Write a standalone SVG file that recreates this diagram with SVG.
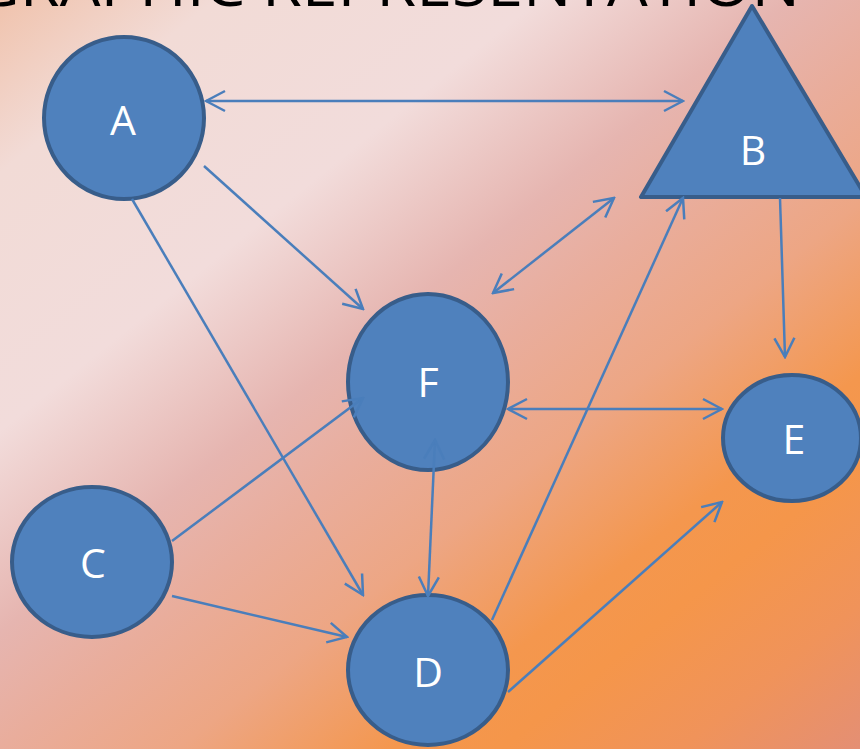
<svg xmlns="http://www.w3.org/2000/svg" width="860" height="749" viewBox="0 0 860 749">
<defs>
<linearGradient id="bg" gradientUnits="userSpaceOnUse" x1="0" y1="0" x2="701" y2="876">
<stop offset="0" stop-color="#f0c3ad"/>
<stop offset="0.12" stop-color="#f2dbd6"/>
<stop offset="0.3" stop-color="#f2dcdb"/>
<stop offset="0.44" stop-color="#e6b5b0"/>
<stop offset="0.52" stop-color="#e9ad9c"/>
<stop offset="0.62" stop-color="#eda684"/>
<stop offset="0.74" stop-color="#f4974e"/>
<stop offset="0.8" stop-color="#f5964a"/>
<stop offset="0.9" stop-color="#f0935a"/>
<stop offset="1" stop-color="#e48f74"/>
</linearGradient>
<marker id="ah" viewBox="0 0 22 24" refX="20" refY="12" markerWidth="22" markerHeight="24" markerUnits="userSpaceOnUse" orient="auto-start-reverse">
<path d="M1,2 L20,12 L1,22" fill="none" stroke="#4a7ebb" stroke-width="2.5"/>
</marker>
<style>
.node{fill:#4f81bd;stroke:#385d8a;stroke-width:4}
.lbl{fill:#ffffff;font-family:"Open Sans","Liberation Sans",sans-serif;font-size:41px;text-anchor:middle}
.c{stroke:#4a7ebb;stroke-width:2.5;fill:none}
.e{marker-end:url(#ah)}
.s{marker-start:url(#ah)}
.title{fill:#000000;font-family:"Open Sans","Liberation Sans",sans-serif;font-size:60px}
</style>
</defs>
<rect x="0" y="0" width="860" height="749" fill="url(#bg)"/>
<text class="title" x="-27" y="6" textLength="827" lengthAdjust="spacingAndGlyphs">GRAPHIC REPRESENTATION</text>
<g id="node-A"><ellipse class="node" cx="124" cy="118" rx="80" ry="81"/><text class="lbl" x="123" y="135">A</text></g>
<g id="node-B"><polygon class="node" points="752,6 641,197 866,197" stroke-linejoin="round"/><text class="lbl" x="753" y="165">B</text></g>
<g id="node-F"><ellipse class="node" cx="428" cy="382" rx="80" ry="88"/><text class="lbl" x="428" y="397">F</text></g>
<g id="node-E"><ellipse class="node" cx="792" cy="438" rx="69" ry="63"/><text class="lbl" x="794" y="454">E</text></g>
<g id="node-C"><ellipse class="node" cx="92" cy="562" rx="80" ry="75"/><text class="lbl" x="93" y="578">C</text></g>
<g id="node-D"><ellipse class="node" cx="428" cy="670" rx="80" ry="75"/><text class="lbl" x="428" y="687">D</text></g>
<g id="connectors">
<line class="c s e" x1="206" y1="101" x2="683" y2="101"/>
<line class="c e" x1="204" y1="166" x2="363" y2="309"/>
<line class="c e" x1="132" y1="199" x2="363" y2="595"/>
<line class="c s e" x1="493" y1="293" x2="614" y2="198"/>
<line class="c e" x1="492" y1="620" x2="683" y2="198"/>
<line class="c e" x1="780" y1="198" x2="785" y2="357"/>
<line class="c s e" x1="508" y1="409" x2="722" y2="409"/>
<line class="c s e" x1="435" y1="440" x2="428" y2="596"/>
<line class="c e" x1="172" y1="541" x2="363" y2="398"/>
<line class="c e" x1="172" y1="596" x2="347" y2="637"/>
<line class="c e" x1="508" y1="692" x2="722" y2="502"/>
</g>
</svg>
